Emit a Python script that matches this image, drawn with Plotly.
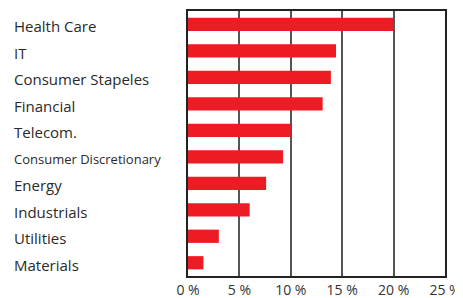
import plotly.graph_objects as go

categories = ["Health Care", "IT", "Consumer Stapeles", "Financial", "Telecom.",
              "Consumer Discretionary", "Energy", "Industrials", "Utilities", "Materials"]
values = [20.0, 14.4, 13.9, 13.1, 10.0, 9.25, 7.6, 6.0, 3.0, 1.5]
tick_vals = [0, 5, 10, 15, 20, 25]
tick_text = ["0 %", "5 %", "10 %", "15 %", "20 %", "25 %"]

# page has an 8px body margin, so the figure is sized to fit inside it
OFF = 8
W, H = 463 - OFF, 298 - OFF
L, R, T, B = 188 - OFF, 18, 11 - OFF, 22
pw = W - L - R

fig = go.Figure(go.Bar(
    x=values, y=categories, orientation="h",
    marker=dict(color="#ED1C24", line=dict(width=0)),
    width=0.5,
))

font = "Open Sans"
for c in categories:
    small = c == "Consumer Discretionary"
    fig.add_annotation(
        x=(12 - OFF - L) / pw, xref="paper", xanchor="left",
        y=c, yref="y", yanchor="middle", yshift=-2,
        text=c, showarrow=False,
        font=dict(family=font, size=13 if small else 15, color="#2a2a2a"),
    )

fig.update_layout(
    width=W, height=H,
    margin=dict(l=L, r=R, t=T, b=B, autoexpand=False),
    paper_bgcolor="white", plot_bgcolor="white",
    showlegend=False,
    bargap=0.5,
    xaxis=dict(
        range=[0, 25], tickvals=tick_vals, ticktext=tick_text, automargin=False,
        showgrid=True, gridcolor="#555555", gridwidth=1.5,
        zeroline=False, showline=True, linecolor="#222222", linewidth=2,
        mirror=True, ticks="", ticklabelstandoff=0,
        tickfont=dict(family=font, size=14, color="#333333"),
    ),
    yaxis=dict(
        categoryorder="array", categoryarray=categories[::-1], automargin=False,
        range=[-0.5, 9.5], showticklabels=False, showgrid=False,
        zeroline=False, showline=True, linecolor="#222222", linewidth=2,
        mirror=True, ticks="",
    ),
)

fig.write_html("out.html")
